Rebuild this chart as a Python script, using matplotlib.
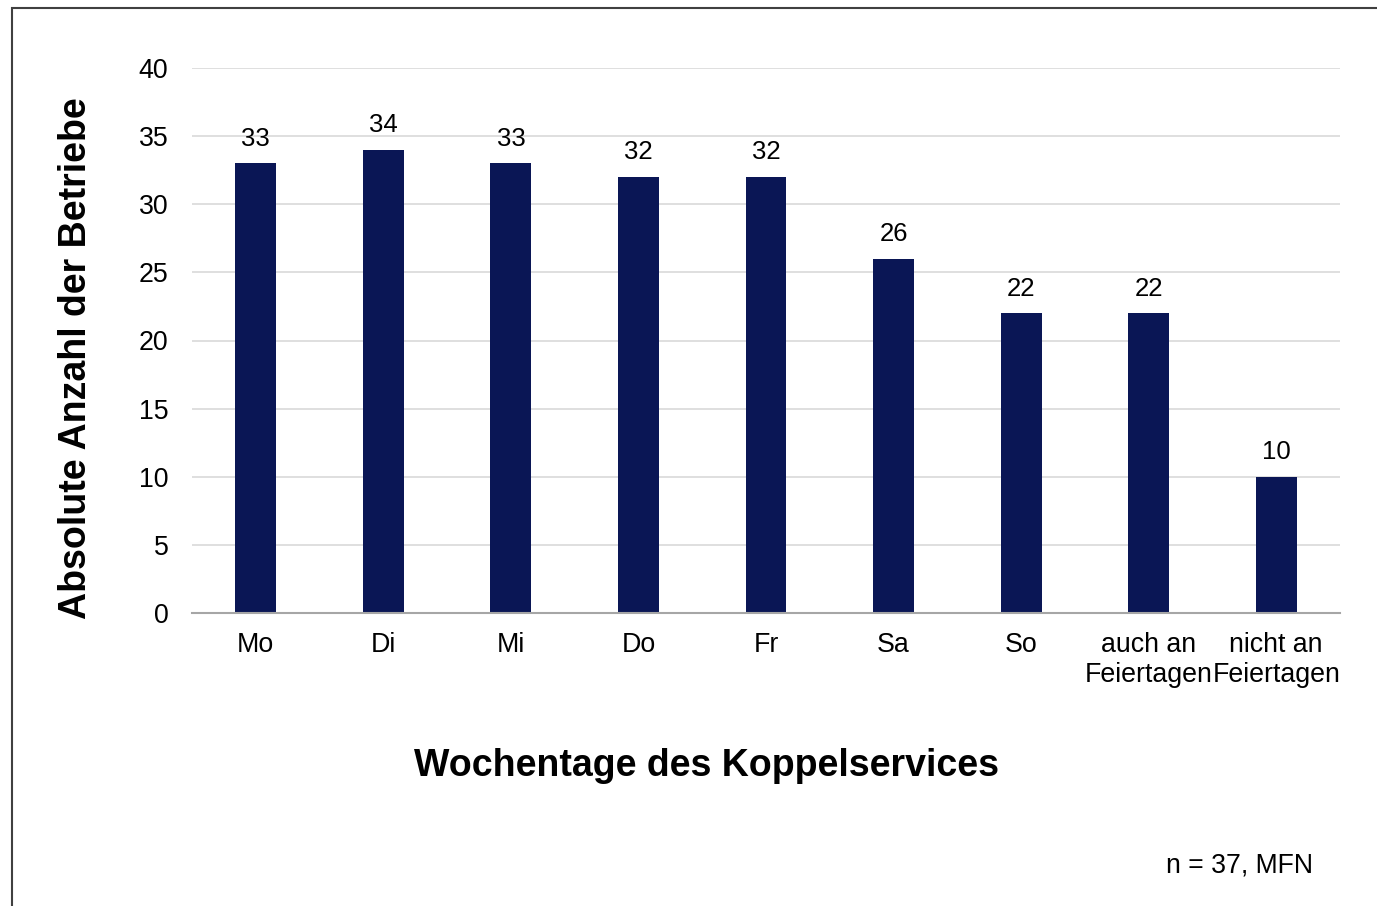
import matplotlib.pyplot as plt
from matplotlib.patches import Rectangle

plt.rcParams["font.family"] = ["Liberation Sans", "DejaVu Sans"]

# Daten
tage = ["Mo", "Di", "Mi", "Do", "Fr", "Sa", "So", "auch an\nFeiertagen", "nicht an\nFeiertagen"]
anzahl = [33, 34, 33, 32, 32, 26, 22, 22, 10]
y_ticks = [0, 5, 10, 15, 20, 25, 30, 35, 40]

W, H = 1377, 906
fig = plt.figure(figsize=(W / 100, H / 100), dpi=100)
ax = fig.add_axes([192 / W, 1 - 613 / H, (1340 - 192) / W, (613 - 68) / H])

x = list(range(len(tage)))
ax.bar(x, anzahl, width=0.32, color="#0a1655", zorder=3)
for xi, v in zip(x, anzahl):
    ax.text(xi, v + 1.8, str(v), ha="center", va="center", fontsize=18.5, color="#000000")

ax.set_xlim(-0.5, len(tage) - 0.5)
ax.set_ylim(0, 40)
ax.set_yticks(y_ticks)
ax.set_xticks(x)
ax.set_xticklabels(tage, fontsize=19.3, linespacing=1.2)
ax.tick_params(axis="y", labelsize=19.3, length=0, pad=17)
ax.tick_params(axis="x", length=0, pad=14)
ax.grid(axis="y", color="#d9d9d9", linewidth=1.2, zorder=0)
for s in ["top", "right", "left"]:
    ax.spines[s].set_visible(False)
ax.spines["bottom"].set_color("#a6a6a6")
ax.spines["bottom"].set_linewidth(1.5)
ax.spines["bottom"].set_zorder(4)

fig.text(76 / W, 1 - 358 / H, "Absolute Anzahl der Betriebe", rotation=90,
         ha="center", va="center", fontsize=27, fontweight="bold")
fig.text(706 / W, 1 - 766 / H, "Wochentage des Koppelservices",
         ha="center", va="center", fontsize=27, fontweight="bold")
fig.text(1240 / W, 1 - 865 / H, "n = 37, MFN", ha="center", va="center", fontsize=19.2)

# Rahmen
fig.patches.append(Rectangle((12 / W, -0.05), 1.1, 1 - 8 / H + 0.05,
                             transform=fig.transFigure, fill=False,
                             edgecolor="#404040", linewidth=1.5))

fig.savefig("out.png", dpi=100)
